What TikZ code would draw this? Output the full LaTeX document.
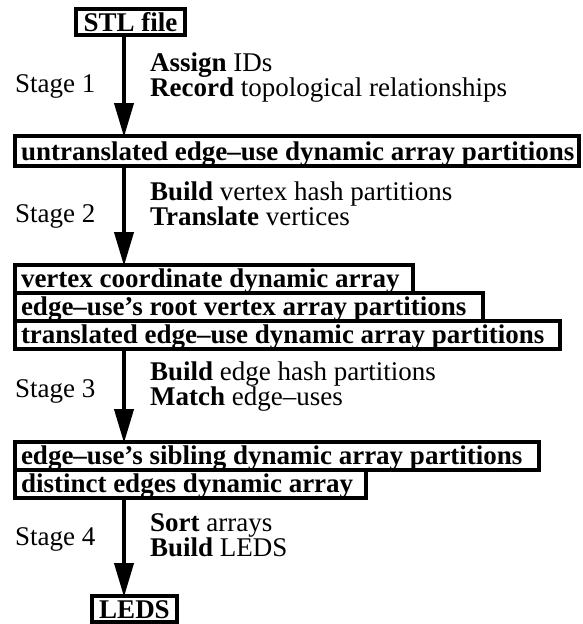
\documentclass[tikz,border=0pt]{standalone}
\usepackage{fontspec}
\setmainfont{Liberation Serif}
\usetikzlibrary{arrows.meta}
\newcommand{\boxtext}[2]{\makebox[#1][l]{#2}}
\tikzset{
  txt/.style={font=\fontsize{27}{25}\selectfont, inner sep=0pt, anchor=base west, align=left},
  boxnode/.style={draw, line width=3.5pt, font=\fontsize{27}{25}\selectfont\bfseries,
    inner xsep=6pt, inner ysep=0pt, outer sep=0pt, text height=22pt, text depth=6pt,
    anchor=base west},
  flow/.style={line width=4pt, -{Triangle[length=34pt, width=19pt]}, shorten >=-1pt}
}
\begin{document}
\begin{tikzpicture}[x=1pt, y=-1pt]
\useasboundingbox (0,0) rectangle (582,624);
\coordinate (axis) at (124,0);
% boxes
\node[boxnode, text depth=4pt, minimum width=109pt] (stl) at (76,31) {STL file};
\node[boxnode, text height=24pt] (untr) at (15,160) {\boxtext{552pt}{untranslated edge--use dynamic array partitions}};
\node[boxnode] (vcoord) at (15,287) {\boxtext{386pt}{vertex coordinate dynamic array}};
\node[boxnode] (root) at (15,315) {\boxtext{456pt}{edge--use's root vertex array partitions}};
\node[boxnode] (trans) at (15,343) {\boxtext{533pt}{translated edge--use dynamic array partitions}};
\node[boxnode] (sib) at (15,464) {\boxtext{512pt}{edge--use's sibling dynamic array partitions}};
\node[boxnode] (dist) at (15,492) {\boxtext{339pt}{distinct edges dynamic array}};
\node[boxnode, text depth=4pt, minimum width=85pt] (leds) at (92,618) {LEDS};
% arrows
\draw[flow] (stl.south -| axis) -- (untr.north -| axis);
\draw[flow] (untr.south -| axis) -- (vcoord.north -| axis);
\draw[flow] (trans.south -| axis) -- (sib.north -| axis);
\draw[flow] (dist.south -| axis) -- (leds.north -| axis);
% stage labels
\node[txt] (s1) at (15,92) {Stage 1};
\node[txt] (s2) at (15,222) {Stage 2};
\node[txt] (s3) at (15,397) {Stage 3};
\node[txt] (s4) at (15,545) {Stage 4};
% step descriptions (anchor at baseline of last line)
\node[txt] (d1) at (150,96) {\textbf{Assign} IDs\\\textbf{Record} topological relationships};
\node[txt] (d2) at (150,225) {\textbf{Build} vertex hash partitions\\\textbf{Translate} vertices};
\node[txt] (d3) at (150,405) {\textbf{Build} edge hash partitions\\\textbf{Match} edge--uses};
\node[txt] (d4) at (150,556) {\textbf{Sort} arrays\\\textbf{Build} LEDS};
\end{tikzpicture}
\end{document}
